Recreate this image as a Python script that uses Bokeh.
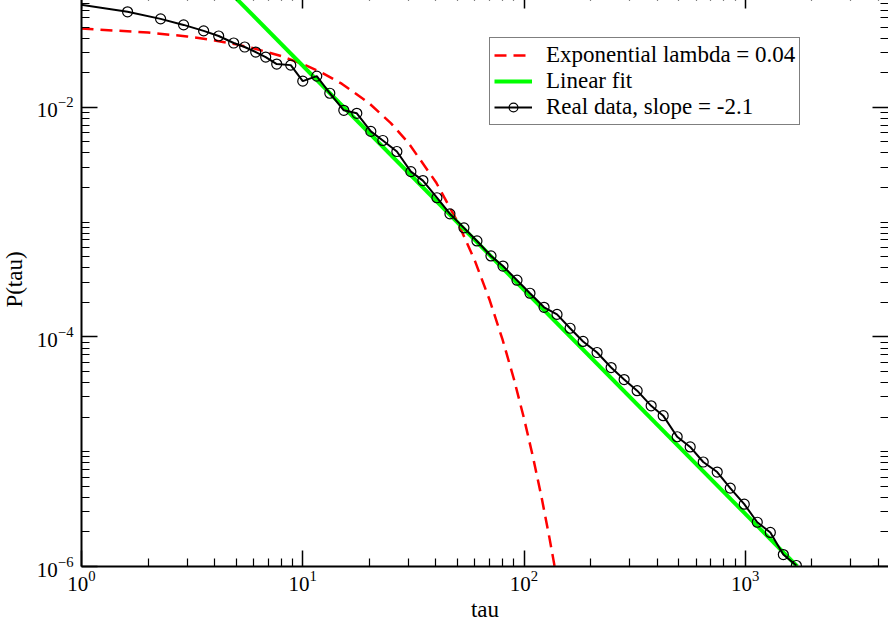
from bokeh.plotting import figure
from bokeh.models import (Range1d, FixedTicker, LogAxis, Legend, LegendItem,
                          CustomLabelingPolicy)
from bokeh.embed import file_html
from bokeh.resources import INLINE

# ---- data ----
tau_real = [0.95, 1.615, 2.278, 2.894, 3.565, 4.169, 4.873, 5.465, 6.130, 6.801,
            7.627, 8.826, 10.0, 11.57, 13.25, 15.33, 17.55, 20.31, 23.01, 26.63,
            30.81, 34.91, 40.40, 46.26, 53.52, 61.28, 70.91, 80.35, 92.97, 106.4,
            123.2, 141.0, 161.5, 184.9, 213.9, 247.6, 283.5, 324.6, 375.5, 425.6,
            492.3, 563.7, 645.6, 746.9, 855.3, 989.7, 1133, 1298, 1486, 1702]
p_real = [0.0793, 0.0679, 0.0589, 0.0522, 0.0463, 0.0418, 0.0363, 0.0335, 0.0303, 0.0274,
          0.0238, 0.0233, 0.0169, 0.0187, 0.01326, 0.00941, 0.00886, 0.00617, 0.00514, 0.00412,
          0.00275, 0.00230, 0.00163, 0.00118, 0.000891, 0.000685, 0.000507, 0.000414, 0.000312, 0.000240,
          0.000181, 0.000157, 0.000119, 9.13e-5, 7.31e-5, 5.41e-5, 4.25e-5, 3.40e-5, 2.51e-5, 2.06e-5,
          1.35e-5, 1.10e-5, 8.13e-6, 6.65e-6, 4.82e-6, 3.49e-6, 2.43e-6, 1.98e-6, 1.27e-6, 1.02e-6]

tau_exp = [1, 2, 3, 4, 5, 6, 8, 10, 12, 15, 20, 25, 30, 40, 50, 60, 70, 80, 90, 100,
           110, 120, 130, 140]
p_exp = [0.04850, 0.04480, 0.04141, 0.03826, 0.03535, 0.03267, 0.02790, 0.02382, 0.02034,
         0.01605, 0.01081, 0.007288, 0.004909, 0.002228, 0.001012, 0.000459, 0.0002084,
         9.46e-5, 4.30e-5, 1.95e-5, 8.85e-6, 4.02e-6, 1.82e-6, 8.28e-7]

tau_fit = [4.72, 1719]
p_fit = [0.0995, 1.0e-6]

x_major = [1, 10, 100, 1000]
x_minor = [m * d for d in (1, 10, 100, 1000) for m in range(2, 10) if m * d < 4400]
y_major = [1e-6, 1e-4, 1e-2]
y_minor = [m * d for d in (1e-6, 1e-5, 1e-4, 1e-3, 1e-2) for m in range(1, 10)
           if m * d not in y_major]

labels = ["Exponential lambda = 0.04", "Linear fit", "Real data, slope = -2.1"]

FONT = "Liberation Serif"
X_END = 4440
Y_TOP = 0.1

p = figure(width=896, height=632, x_axis_type="log", y_axis_type="log",
           x_range=Range1d(1, X_END), y_range=Range1d(1e-6, Y_TOP),
           output_backend="svg", toolbar_location=None,
           min_border_left=89, min_border_right=0, min_border_top=0, min_border_bottom=0,
           x_axis_label="tau", y_axis_label="P(tau)")
p.margin = (-8, 0, -8, -8)
p.background_fill_color = "white"
p.border_fill_color = "white"
p.outline_line_color = None
p.xgrid.visible = False
p.ygrid.visible = False


def style_axis(ax, ticks, minor, show_labels=True, line=True):
    ax.ticker = FixedTicker(ticks=ticks, minor_ticks=minor)
    ax.axis_line_color = "black" if line else None
    ax.axis_line_width = 2
    ax.major_tick_in = 16
    ax.major_tick_out = 0
    ax.minor_tick_in = 8
    ax.minor_tick_out = 0
    ax.major_tick_line_color = "black"
    ax.minor_tick_line_color = "black"
    ax.major_tick_line_width = 1.5
    ax.minor_tick_line_width = 1.2
    if show_labels:
        ax.major_label_text_font = FONT
        ax.major_label_text_font_size = "21px"
        ax.major_label_text_color = "black"
        ax.axis_label_text_font = FONT
        ax.axis_label_text_font_size = "23px"
        ax.axis_label_text_font_style = "normal"
        ax.axis_label_text_color = "black"
    else:
        ax.major_label_text_font_size = "1px"
        ax.major_label_standoff = 0
        ax.major_label_policy = CustomLabelingPolicy(code="return new Set()")


xa = p.xaxis[0]
ya = p.yaxis[0]
style_axis(xa, x_major, x_minor)
style_axis(ya, y_major, y_minor)
xa.major_label_standoff = 4
xa.axis_label_standoff = 3
ya.major_label_standoff = 8
ya.axis_label_standoff = 7

top = LogAxis(fixed_location=Y_TOP)
style_axis(top, x_major, x_minor, show_labels=False)
p.add_layout(top, "above")
right = LogAxis(fixed_location=X_END)
style_axis(right, y_major, y_minor, show_labels=False, line=False)
p.add_layout(right, "right")

r_exp = p.line(tau_exp, p_exp, line_color="#ff0000", line_width=2.5, line_dash="12 7")
r_fit = p.line(tau_fit, p_fit, line_color="#00ff00", line_width=4)
r_line = p.line(tau_real, p_real, line_color="black", line_width=2)
r_pts = p.scatter(tau_real[1:], p_real[1:], marker="circle", size=10,
                  fill_color=None, line_color="black", line_width=1.2)

legend = Legend(items=[LegendItem(label=labels[0], renderers=[r_exp]),
                       LegendItem(label=labels[1], renderers=[r_fit]),
                       LegendItem(label=labels[2], renderers=[r_line, r_pts])],
                location=(408, 441))
legend.label_text_font = FONT
legend.label_text_font_size = "23px"
legend.label_text_color = "black"
legend.glyph_width = 38
legend.glyph_height = 22
legend.label_height = 22
legend.label_standoff = 14
legend.spacing = 0
legend.padding = 4
legend.margin = 0
legend.border_line_color = "black"
legend.border_line_width = 1.5
legend.background_fill_color = "white"
legend.background_fill_alpha = 1
p.add_layout(legend)

open("out.html", "w").write(file_html(p, INLINE))
